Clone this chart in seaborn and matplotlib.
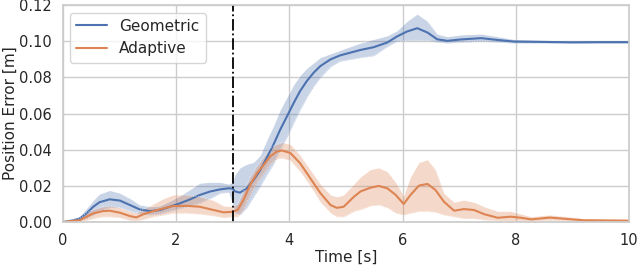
import matplotlib

matplotlib.use("Agg")

import matplotlib.pyplot as plt
import pandas as pd
import seaborn as sns


# values: time, mean error, band low, band high
GEO_T = [0, 0.18, 0.3, 0.42, 0.54, 0.65, 0.83, 1.01, 1.19, 1.36, 1.54, 1.72, 1.89, 2.07, 2.25,
         2.42, 2.6, 2.78, 2.93, 3.0, 3.04, 3.13, 3.25, 3.37, 3.49, 3.6, 3.72, 3.84, 3.96, 4.08,
         4.19, 4.31, 4.43, 4.55, 4.73, 4.9, 5.08, 5.26, 5.49, 5.73, 5.9, 6.08, 6.26, 6.44, 6.61,
         6.79, 7.03, 7.39, 7.68, 7.97, 8.5, 9.0, 9.5, 10]
GEO_MEAN = [0, 0.001, 0.002, 0.0048, 0.0085, 0.011, 0.0126, 0.0119, 0.0094, 0.0070, 0.0061,
            0.0067, 0.0085, 0.0104, 0.0126, 0.015, 0.0169, 0.0181, 0.0187, 0.0185, 0.017, 0.0163,
            0.0187, 0.0233, 0.0289, 0.0354, 0.0428, 0.0511, 0.0585, 0.066, 0.0724, 0.078, 0.0826,
            0.0863, 0.090, 0.0922, 0.0937, 0.0952, 0.0967, 0.0993, 0.1026, 0.1054, 0.1072, 0.1048,
            0.1011, 0.1002, 0.101, 0.1017, 0.1007, 0.0998, 0.0996, 0.0994, 0.0995, 0.0995]
GEO_LO = [0, 0.0005, 0.001, 0.002, 0.004, 0.006, 0.008, 0.008, 0.006, 0.0045, 0.004, 0.0045,
          0.006, 0.0075, 0.009, 0.0105, 0.013, 0.016, 0.0165, 0.010, 0.005, 0.004, 0.008, 0.014,
          0.020, 0.026, 0.032, 0.040, 0.047, 0.055, 0.062, 0.069, 0.075, 0.080, 0.086, 0.089,
          0.090, 0.091, 0.092, 0.097, 0.100, 0.1005, 0.1005, 0.1005, 0.0995, 0.099, 0.0995, 0.100,
          0.0995, 0.099, 0.099, 0.0988, 0.0988, 0.0988]
GEO_HI = [0, 0.0015, 0.003, 0.0075, 0.012, 0.0155, 0.0175, 0.016, 0.013, 0.0095, 0.0085, 0.009,
          0.0115, 0.0145, 0.018, 0.0215, 0.022, 0.022, 0.021, 0.022, 0.026, 0.030, 0.032, 0.033,
          0.037, 0.045, 0.053, 0.062, 0.069, 0.076, 0.081, 0.085, 0.088, 0.091, 0.093, 0.095,
          0.097, 0.099, 0.101, 0.103, 0.1057, 0.111, 0.115, 0.111, 0.104, 0.1025, 0.1035, 0.104,
          0.1025, 0.101, 0.1005, 0.1002, 0.1002, 0.1002]

ADA_T = [0, 0.18, 0.3, 0.42, 0.54, 0.71, 0.83, 1.01, 1.19, 1.3, 1.42, 1.6, 1.78, 1.95, 2.19,
         2.42, 2.66, 2.84, 2.99, 3.09, 3.19, 3.31, 3.43, 3.55, 3.66, 3.78, 3.87, 4.02, 4.19,
         4.37, 4.55, 4.73, 4.84, 4.96, 5.14, 5.26, 5.43, 5.58, 5.73, 5.88, 6.02, 6.14, 6.29,
         6.44, 6.58, 6.73, 6.91, 7.08, 7.26, 7.44, 7.68, 7.91, 8.09, 8.27, 8.6, 9.2, 10]
ADA_MEAN = [0, 0.0007, 0.001, 0.003, 0.0048, 0.0061, 0.0063, 0.0052, 0.0033, 0.0026, 0.0043,
            0.0061, 0.0076, 0.0089, 0.009, 0.0085, 0.0067, 0.0054, 0.0057, 0.0068, 0.0122, 0.0206,
            0.027, 0.0317, 0.0363, 0.039, 0.0396, 0.0382, 0.0326, 0.0243, 0.016, 0.0094, 0.0079,
            0.0085, 0.014, 0.017, 0.019, 0.020, 0.0187, 0.015, 0.010, 0.015, 0.0202, 0.0211,
            0.0178, 0.0113, 0.0063, 0.0072, 0.0067, 0.0044, 0.0024, 0.003, 0.0024, 0.0015, 0.0025,
            0.001, 0.0008]
ADA_LO = [0, 0, 0.0002, 0.001, 0.002, 0.003, 0.003, 0.0025, 0.001, 0.0007, 0.0015, 0.003,
          0.004, 0.005, 0.005, 0.0045, 0.0035, 0.0025, 0.003, 0.003, 0.007, 0.015, 0.022, 0.027,
          0.032, 0.035, 0.0355, 0.034, 0.028, 0.020, 0.011, 0.005, 0.003, 0.003, 0.006, 0.007,
          0.009, 0.0095, 0.008, 0.005, 0.004, 0.005, 0.006, 0.006, 0.0055, 0.004, 0.003, 0.002,
          0.002, 0.0013, 0.0008, 0.0006, 0.0006, 0.0005, 0.001, 0.0003, 0.0002]
ADA_HI = [0, 0.0015, 0.002, 0.005, 0.007, 0.0085, 0.009, 0.008, 0.006, 0.005, 0.007, 0.010,
          0.013, 0.015, 0.015, 0.014, 0.012, 0.009, 0.0085, 0.010, 0.017, 0.025, 0.031, 0.036,
          0.041, 0.043, 0.044, 0.043, 0.037, 0.029, 0.021, 0.015, 0.014, 0.015, 0.021, 0.025,
          0.029, 0.030, 0.028, 0.022, 0.0145, 0.025, 0.033, 0.0345, 0.029, 0.016, 0.011, 0.0122,
          0.011, 0.0085, 0.006, 0.006, 0.0045, 0.003, 0.004, 0.002, 0.0015]

SWITCH_TIME = 3.0


def main() -> None:
    sns.set_theme(style="whitegrid")
    palette = sns.color_palette("deep")

    geo = pd.DataFrame({"t": GEO_T, "err": GEO_MEAN, "lo": GEO_LO, "hi": GEO_HI})
    ada = pd.DataFrame({"t": ADA_T, "err": ADA_MEAN, "lo": ADA_LO, "hi": ADA_HI})

    fig, ax = plt.subplots(figsize=(6.4, 2.66), dpi=100)
    fig.subplots_adjust(left=0.098, right=0.983, bottom=0.165, top=0.981)

    for df, name, color in [(geo, "Geometric", palette[0]), (ada, "Adaptive", palette[1])]:
        ax.fill_between(df["t"], df["lo"], df["hi"], color=color, alpha=0.3, linewidth=0)
        # faint dotted rims, like the stippled trial bands in the original
        for edge in ("lo", "hi"):
            ax.plot(df["t"], df[edge], color="white", linestyle=":", linewidth=0.7, alpha=0.6)
        sns.lineplot(data=df, x="t", y="err", color=color, label=name, linewidth=1.5, ax=ax)

    ax.axvline(SWITCH_TIME, color="black", linestyle="-.", linewidth=1.3)

    ax.set_xlim(0, 10)
    ax.set_ylim(0, 0.12)
    ax.set_xticks([0, 2, 4, 6, 8, 10])
    ax.set_yticks([0, 0.02, 0.04, 0.06, 0.08, 0.10, 0.12])
    ax.set_yticklabels(["0.00", "0.02", "0.04", "0.06", "0.08", "0.10", "0.12"])
    ax.set_xlabel("Time [s]", fontsize=11, labelpad=1)
    ax.set_ylabel("Position Error [m]", fontsize=11, labelpad=1)
    ax.tick_params(labelsize=10.5, pad=2)
    ax.legend(loc="upper left", fontsize=11)

    fig.savefig("out.png", dpi=100)
    plt.close(fig)


if __name__ == "__main__":
    main()
